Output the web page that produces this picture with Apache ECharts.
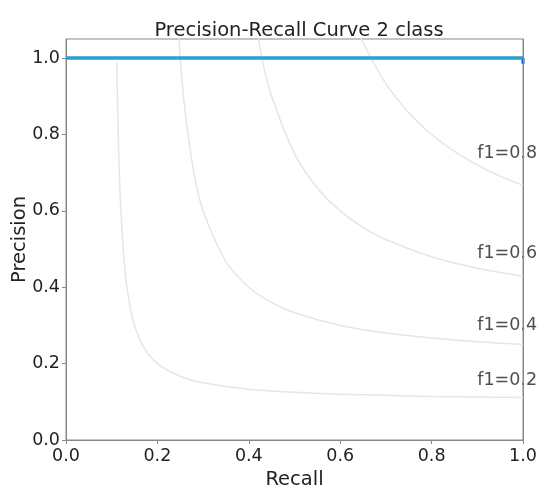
<!DOCTYPE html>
<html><head><meta charset="utf-8">
<script src="https://cdn.jsdelivr.net/npm/echarts@6/dist/echarts.min.js"></script>
<style>html,body{margin:0;padding:0;background:#fff}#c{width:540px;height:488px}</style>
</head><body><div id="c"></div>
<script>
const title = 'Precision-Recall Curve 2 class';
const xTicks = [0.0, 0.2, 0.4, 0.6, 0.8, 1.0];
const yTicks = [0.0, 0.2, 0.4, 0.6, 0.8, 1.0];
// iso-F1 reference curves: [recall, precision]
const isoF02 = [[0.111,0.99],[0.115,0.77],[0.12,0.6],[0.13,0.433],[0.14,0.35],[0.15,0.3],[0.17,0.243],[0.2,0.2],[0.25,0.167],[0.3,0.15],[0.4,0.133],[0.5,0.125],[0.6,0.12],[0.7,0.117],[0.8,0.114],[0.9,0.1125],[1.0,0.111]];
const isoF04 = [[0.245,1.09],[0.25,1.0],[0.26,0.867],[0.28,0.7],[0.3,0.6],[0.35,0.467],[0.4,0.4],[0.45,0.36],[0.5,0.333],[0.6,0.3],[0.7,0.28],[0.8,0.267],[0.9,0.257],[1.0,0.25]];
const isoF06 = [[0.415,1.1],[0.43,0.992],[0.45,0.9],[0.5,0.75],[0.55,0.66],[0.6,0.6],[0.65,0.557],[0.7,0.525],[0.8,0.48],[0.9,0.45],[1.0,0.429]];
const isoF08 = [[0.64,1.07],[0.65,1.04],[0.7,0.933],[0.75,0.857],[0.8,0.8],[0.85,0.756],[0.9,0.72],[0.95,0.691],[1.0,0.667]];
const isoLabels = ['f1=0.2','f1=0.4','f1=0.6','f1=0.8'];
const isoLabelPos = [[0.9,0.132],[0.9,0.276],[0.9,0.465],[0.9,0.728]];
// PR curves
const allClasses = [[0,1.0],[1.0,1.0],[1.0,0.985]];
const class2 = [[0,1.0],[1.0,1.0]];

const chart = echarts.init(document.getElementById('c'), null, {renderer:'canvas'});
const font = 'DejaVu Sans';
const isoStyle = {color:'#e6e6e6', width:1.5};
function isoSeries(d){ return {type:'line', data:d, showSymbol:false, smooth:0.3, lineStyle:isoStyle, clip:true, z:1, silent:true}; }
chart.setOption({
  animation:false,
  title:{text:title, left:294, textAlign:'center', top:16, textStyle:{fontFamily:font, fontSize:19.5, fontWeight:'normal', color:'#222'}},
  grid:{left:66, right:17, top:39, bottom:48, show:true, borderColor:'#888', borderWidth:1, outerBoundsMode:'none', containLabel:false},
  xAxis:{type:'value', min:0, max:1, interval:0.2, name:'Recall', nameLocation:'middle', nameGap:30, nameMoveOverlap:false,
    nameTextStyle:{fontFamily:font, fontSize:19.5, color:'#222'},
    axisLine:{show:true, lineStyle:{color:'#888'}}, axisTick:{show:true, length:4, lineStyle:{color:'#888'}},
    splitLine:{show:false},
    axisLabel:{fontFamily:font, fontSize:17.5, color:'#222', margin:7, formatter:v=>v.toFixed(1), showMaxLabel:true}},
  yAxis:[{type:'value', min:0, max:1.05, interval:0.2, name:'Precision', nameLocation:'middle', nameGap:36, nameMoveOverlap:false,
    nameTextStyle:{fontFamily:font, fontSize:19.5, color:'#222'},
    axisLine:{show:true, lineStyle:{color:'#888'}}, axisTick:{show:true, length:4, lineStyle:{color:'#888'}},
    splitLine:{show:false},
    axisLabel:{fontFamily:font, fontSize:17.5, color:'#222', margin:6, formatter:v=>v.toFixed(1), showMaxLabel:false}},
    {type:'value', min:0, max:1.05, position:'right', z:10, axisLine:{show:true, lineStyle:{color:'#888'}}, axisTick:{show:false}, axisLabel:{show:false}, splitLine:{show:false}}],
  series:[
    isoSeries(isoF02), isoSeries(isoF04), isoSeries(isoF06), isoSeries(isoF08),
    {type:'scatter', symbolSize:0, z:3, silent:true,
      data:isoLabelPos.map((p,i)=>({value:p, name:isoLabels[i]})),
      label:{show:true, formatter:p=>p.name, position:[0,0], align:'left', verticalAlign:'bottom',
        fontFamily:font, fontSize:17.5, color:'#222'}},
    {type:'line', data:allClasses, showSymbol:false, lineStyle:{color:'#1f5fb4', width:3}, clip:false, z:4},
    {type:'line', data:class2, showSymbol:false, lineStyle:{color:'#1ba8d8', width:2.5}, clip:false, z:5}
  ]
});
</script></body></html>
